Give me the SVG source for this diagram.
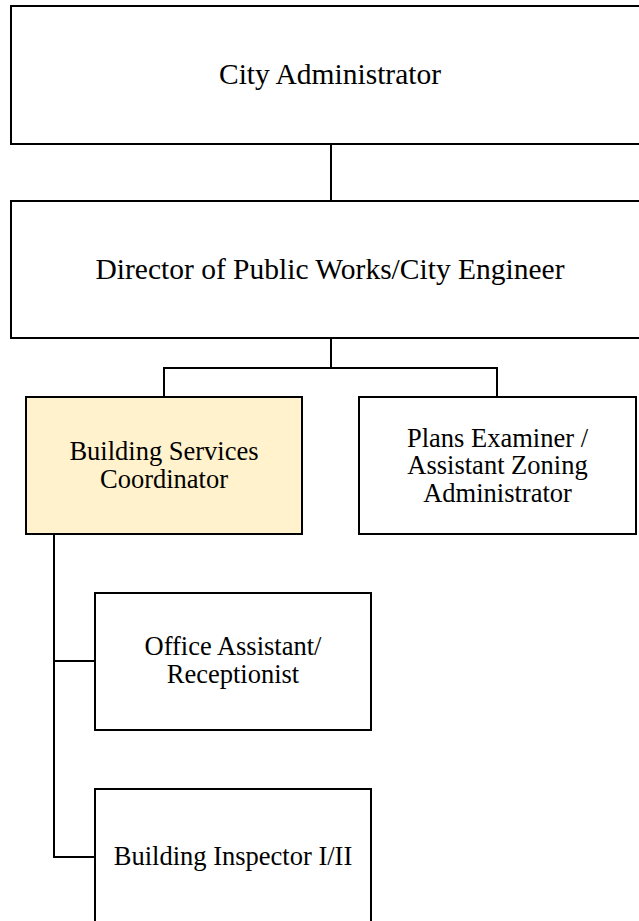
<svg xmlns="http://www.w3.org/2000/svg" width="639" height="921" viewBox="0 0 639 921">
<style>
.box{fill:#ffffff;stroke:#000000;stroke-width:2}
.hl{fill:#fff2cc}
.t{font-family:"Liberation Serif","Times New Roman",serif;font-size:26.5px;fill:#000000;text-anchor:middle}
.big{font-size:29.5px}
.c{fill:none;stroke:#000000;stroke-width:2}
</style>
<rect width="639" height="921" fill="#ffffff"/>
<g id="connectors">
<path class="c" d="M331 144V201"/>
<path class="c" d="M331 338V368M164 397V368H497V397"/>
<path class="c" d="M54 534V857H95M54 661H95"/>
</g>
<g id="city-administrator">
<rect class="box" x="11" y="6" width="640" height="138"/>
<text class="t big" x="330" y="84">City Administrator</text>
</g>
<g id="director">
<rect class="box" x="11" y="201" width="640" height="137"/>
<text class="t big" x="330" y="279">Director of Public Works/City Engineer</text>
</g>
<g id="building-services-coordinator">
<rect class="box hl" x="26" y="397" width="276" height="137"/>
<text class="t" x="164" y="460">Building Services</text>
<text class="t" x="164" y="488">Coordinator</text>
</g>
<g id="plans-examiner">
<rect class="box" x="359" y="397" width="277" height="137"/>
<text class="t" x="497.5" y="447">Plans Examiner /</text>
<text class="t" x="497.5" y="474">Assistant Zoning</text>
<text class="t" x="497.5" y="502">Administrator</text>
</g>
<g id="office-assistant">
<rect class="box" x="95" y="593" width="276" height="137"/>
<text class="t" x="233" y="655">Office Assistant/</text>
<text class="t" x="233" y="683">Receptionist</text>
</g>
<g id="building-inspector">
<rect class="box" x="95" y="789" width="276" height="160"/>
<text class="t" x="233" y="865">Building Inspector I/II</text>
</g>
</svg>
